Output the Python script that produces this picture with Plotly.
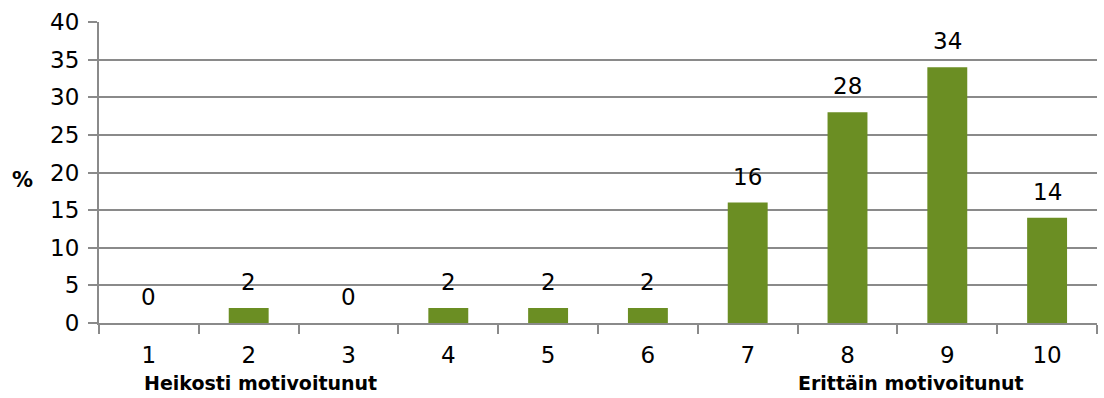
import plotly.graph_objects as go

# Motivation scale 1-10 and share of respondents (%)
categories = ["1", "2", "3", "4", "5", "6", "7", "8", "9", "10"]
percent = [0, 2, 0, 2, 2, 2, 16, 28, 34, 14]
y_ticks = [0, 5, 10, 15, 20, 25, 30, 35, 40]
low_label = "Heikosti motivoitunut"
high_label = "Erittäin motivoitunut"

FONT = "DejaVu Sans"
GRID = "#8a8a8a"
SIZE = 23

fig = go.Figure(
    go.Bar(
        x=categories,
        y=percent,
        width=0.4,
        marker=dict(color="#6b8e23", line=dict(width=0)),
        hoverinfo="skip",
    )
)

# Value labels floating a little above each bar (category axis positions are indices)
for idx, val in enumerate(percent):
    fig.add_annotation(
        x=idx, y=val, text=str(val), xref="x", yref="y",
        xanchor="center", yanchor="bottom", yshift=11, showarrow=False,
        font=dict(family=FONT, size=SIZE, color="#000000"),
    )

fig.update_layout(
    width=1104,
    height=398,
    margin=dict(l=99, r=7, t=22, b=75, autoexpand=False),
    paper_bgcolor="white",
    plot_bgcolor="white",
    showlegend=False,
    font=dict(family=FONT, size=SIZE, color="#000000"),
)

fig.update_xaxes(
    type="category",
    range=[-0.5, 9.5],
    automargin=False,
    tickson="boundaries",
    ticks="outside",
    ticklen=9,
    tickwidth=2,
    tickcolor=GRID,
    showline=True,
    linecolor=GRID,
    linewidth=2,
    showgrid=False,
    tickfont=dict(family=FONT, size=SIZE),
    ticklabelstandoff=10,
)

fig.update_yaxes(
    range=[0, 40],
    automargin=False,
    tickvals=y_ticks,
    ticks="outside",
    ticklen=9,
    tickwidth=2,
    tickcolor=GRID,
    showline=True,
    linecolor=GRID,
    linewidth=2,
    showgrid=True,
    gridcolor=GRID,
    gridwidth=2,
    zeroline=False,
    tickfont=dict(family=FONT, size=SIZE),
    ticklabelstandoff=4,
)

# Axis title "%" and end-of-scale captions
fig.add_annotation(
    text="<b>%</b>", xref="paper", yref="paper", x=-0.077, y=0.475,
    xanchor="center", yanchor="middle", showarrow=False,
    font=dict(family=FONT, size=21),
)
fig.add_annotation(
    text=f"<b>{low_label}</b>", xref="x", yref="paper", x=1.12, y=-0.2,
    xanchor="center", yanchor="middle", showarrow=False,
    font=dict(family=FONT, size=19),
)
fig.add_annotation(
    text=f"<b>{high_label}</b>", xref="x", yref="paper", x=7.64, y=-0.2,
    xanchor="center", yanchor="middle", showarrow=False,
    font=dict(family=FONT, size=19),
)

fig.write_html("out.html")
